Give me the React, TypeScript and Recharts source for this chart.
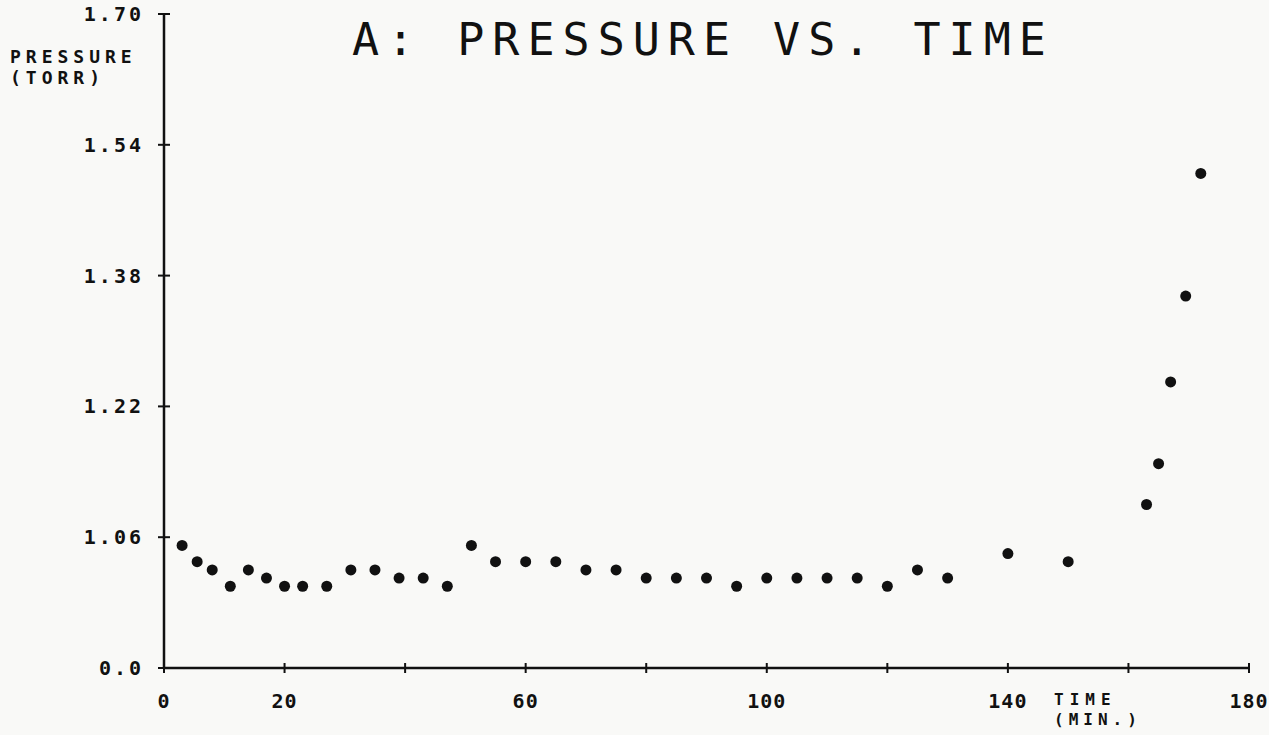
import { ScatterChart, Scatter, XAxis, YAxis } from "recharts";

// readings
const TIME_MIN = [
  3, 5.5, 8, 11, 14, 17, 20, 23, 27, 31, 35, 39, 43, 47, 51, 55, 60, 65, 70,
  75, 80, 85, 90, 95, 100, 105, 110, 115, 120, 125, 130, 140, 150, 163, 165,
  167, 169.5, 172,
];
const PRESSURE_TORR = [
  1.05, 1.03, 1.02, 1.0, 1.02, 1.01, 1.0, 1.0, 1.0, 1.02, 1.02, 1.01, 1.01,
  1.0, 1.05, 1.03, 1.03, 1.03, 1.02, 1.02, 1.01, 1.01, 1.01, 1.0, 1.01, 1.01,
  1.01, 1.01, 1.0, 1.02, 1.01, 1.04, 1.03, 1.1, 1.15, 1.25, 1.355, 1.505,
];

const X_TICKS = [0, 20, 40, 60, 80, 100, 120, 140, 160, 180];
const X_LABELED = [0, 20, 60, 100, 140, 180];
const Y_TICKS = [0.9, 1.06, 1.22, 1.38, 1.54, 1.7];
const Y_TICK_LABELS = ["0.0", "1.06", "1.22", "1.38", "1.54", "1.70"];

const INK = "#111";
const LABEL_FONT = "'DejaVu Sans Mono', monospace";

const data = TIME_MIN.map((t, i) => ({ t, p: PRESSURE_TORR[i] }));

const YTick = (props: any) => {
  const { x, y, index } = props;
  return (
    <g>
      <line x1={x - 6} x2={x + 6} y1={y} y2={y} stroke={INK} strokeWidth={2} />
      <text
        x={x - 20}
        y={y + 7}
        textAnchor="end"
        fontFamily={LABEL_FONT}
        fontWeight="bold"
        fontSize={20}
        letterSpacing={3}
        fill={INK}
      >
        {Y_TICK_LABELS[index]}
      </text>
    </g>
  );
};

const XTick = (props: any) => {
  const { x, y, payload } = props;
  const show = X_LABELED.includes(payload.value);
  return (
    <g>
      <line x1={x} x2={x} y1={y - 5} y2={y + 5} stroke={INK} strokeWidth={2} />
      {show && (
        <text
          x={x}
          y={y + 40}
          textAnchor="middle"
          fontFamily={LABEL_FONT}
          fontWeight="bold"
          fontSize={20}
          letterSpacing={1}
          fill={INK}
        >
          {payload.value}
        </text>
      )}
    </g>
  );
};

const Dot = (props: any) => (
  <circle cx={props.cx} cy={props.cy} r={5.5} fill={INK} />
);

export default function App() {
  return (
    <div
      style={{
        position: "absolute",
        left: 0,
        top: 0,
        width: 1269,
        height: 735,
        background: "#f9f9f7",
      }}
    >
      <ScatterChart
        width={1269}
        height={735}
        margin={{ top: 14, right: 20, bottom: 7, left: 0 }}
      >
        <XAxis
          type="number"
          dataKey="t"
          domain={[0, 180]}
          ticks={X_TICKS}
          interval={0}
          height={60}
          tickSize={0}
          tickMargin={0}
          axisLine={{ stroke: INK, strokeWidth: 2.5 }}
          tickLine={false}
          tick={<XTick />}
        />
        <YAxis
          type="number"
          dataKey="p"
          domain={[0.9, 1.7]}
          ticks={Y_TICKS}
          interval={0}
          width={164}
          tickSize={0}
          tickMargin={0}
          axisLine={{ stroke: INK, strokeWidth: 2.5 }}
          tickLine={false}
          tick={<YTick />}
        />
        <Scatter data={data} shape={Dot} isAnimationActive={false} />
      </ScatterChart>
      <svg
        width={1269}
        height={735}
        style={{ position: "absolute", left: 0, top: 0, pointerEvents: "none" }}
      >
        <text
          x={352}
          y={55}
          fontFamily={LABEL_FONT}
          fontSize={45}
          letterSpacing={8}
          fill={INK}
        >
          A: PRESSURE VS. TIME
        </text>
        <g fontFamily={LABEL_FONT} fontWeight="bold" fill={INK}>
          <text x={10} y={63} fontSize={18} letterSpacing={5}>PRESSURE</text>
          <text x={10} y={84} fontSize={18} letterSpacing={5}>(TORR)</text>
          <text x={1054} y={705} fontSize={16} letterSpacing={6}>TIME</text>
          <text x={1054} y={725} fontSize={16} letterSpacing={5}>(MIN.)</text>
        </g>
      </svg>
    </div>
  );
}
